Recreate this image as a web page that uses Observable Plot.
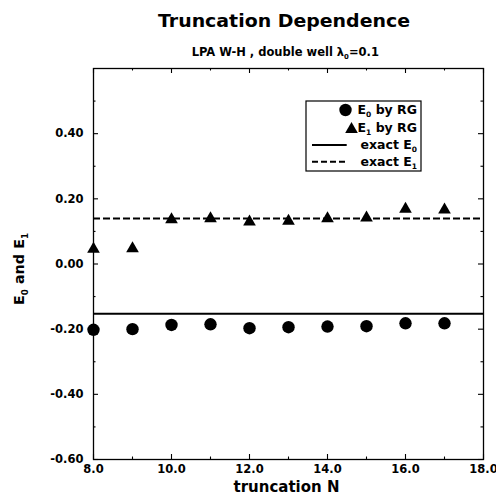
<!DOCTYPE html>
<html><head><meta charset="utf-8">
<script src="https://cdn.jsdelivr.net/npm/d3@7"></script>
<script src="https://cdn.jsdelivr.net/npm/@observablehq/plot@0.6"></script>
<style>body{margin:0;background:#fff}</style>
</head><body><div id="chart"></div>
<script>
const truncationN = [8, 9, 10, 11, 12, 13, 14, 15, 16, 17];
const e0ByRG = [-0.202, -0.200, -0.187, -0.185, -0.197, -0.194, -0.192, -0.191, -0.182, -0.182];
const e1ByRG = [0.051, 0.053, 0.142, 0.145, 0.135, 0.137, 0.145, 0.147, 0.174, 0.172];
const exactE0 = [-0.153];
const exactE1 = [0.140];
const xTicks = [8, 10, 12, 14, 16, 18];
const xMinorTicks = [9, 11, 13, 15, 17];
const yTicks = [-0.6, -0.4, -0.2, 0, 0.2, 0.4];
const yMinorTicks = [-0.5, -0.3, -0.1, 0.1, 0.3, 0.5];

const W = 496, H = 494, ML = 93, MR = 13, MT = 68, MB = 35;
const PW = W - ML - MR, PH = H - MT - MB;
const FONT = "DejaVu Sans";

const chart = Plot.plot({
  width: W, height: H,
  marginLeft: ML, marginRight: MR, marginTop: MT, marginBottom: MB,
  style: {fontFamily: FONT, fontWeight: "bold", fontSize: "11.5px", color: "#000", background: "#fff"},
  x: {domain: [8, 18]},
  y: {domain: [-0.6, 0.6]},
  marks: [
    Plot.ruleY(exactE0, {stroke: "#000", strokeWidth: 2}),
    Plot.ruleY(exactE1, {stroke: "#000", strokeWidth: 2, strokeDasharray: "7,3"}),
    Plot.dot(truncationN, {x: truncationN, y: e0ByRG, r: 6.2, fill: "#000"}),
    Plot.dot(truncationN, {x: truncationN, y: e1ByRG, r: 4.7, symbol: "triangle", fill: "#000", dy: 1.8}),
    // inward ticks, all four sides
    Plot.ruleX(xTicks, {x: d => d, insetTop: PH - 5, strokeWidth: 1.1}),
    Plot.ruleX(xTicks, {x: d => d, insetBottom: PH - 5, strokeWidth: 1.1}),
    Plot.ruleX(xMinorTicks, {x: d => d, insetTop: PH - 2.5, strokeWidth: 1.1}),
    Plot.ruleX(xMinorTicks, {x: d => d, insetBottom: PH - 2.5, strokeWidth: 1.1}),
    Plot.ruleY(yTicks, {y: d => d, insetRight: PW - 5, strokeWidth: 1.1}),
    Plot.ruleY(yTicks, {y: d => d, insetLeft: PW - 5, strokeWidth: 1.1}),
    Plot.ruleY(yMinorTicks, {y: d => d, insetRight: PW - 2.5, strokeWidth: 1.1}),
    Plot.ruleY(yMinorTicks, {y: d => d, insetLeft: PW - 2.5, strokeWidth: 1.1}),
    Plot.frame({stroke: "#000", strokeWidth: 1.3}),
    Plot.axisX(xTicks, {tickSize: 0, tickPadding: 5, tickFormat: d => d.toFixed(1), label: null}),
    Plot.axisY(yTicks, {tickSize: 0, tickPadding: 10, tickFormat: d => d.toFixed(2), label: null})
  ]
});
document.getElementById("chart").appendChild(chart);

const svg = d3.select(chart);

function subText(g, x, y, parts, size, anchor, extra) {
  const t = g.append("text").attr("x", x).attr("y", y)
    .attr("font-family", FONT).attr("font-weight", "bold")
    .attr("font-size", size).attr("text-anchor", anchor).attr("fill", "#000");
  if (extra) extra(t);
  let shift = 0;
  parts.forEach(p => {
    const s = t.append("tspan").text(p.t);
    if (p.sub) {
      s.attr("font-size", size * 0.6).attr("dy", size * 0.25);
      shift = size * 0.25;
    } else if (shift) {
      s.attr("dy", -shift);
      shift = 0;
    }
  });
  return t;
}

// title & subtitle
svg.append("text").attr("x", 284).attr("y", 27.3).attr("text-anchor", "middle")
  .attr("font-family", FONT).attr("font-weight", "bold").attr("font-size", 17.5)
  .attr("textLength", 252).attr("lengthAdjust", "spacingAndGlyphs")
  .text("Truncation Dependence");
subText(svg, 285.3, 56, [{t: "LPA W-H , double well λ"}, {t: "0", sub: true}, {t: "=0.1"}], 11.5, "middle");

// axis labels
subText(svg, 286.5, 491.5, [{t: "truncation N"}], 15, "middle");
subText(svg, 0, 0, [{t: "E"}, {t: "0", sub: true}, {t: " and E"}, {t: "1", sub: true}], 14.4, "middle",
  t => t.attr("transform", "translate(24,269) rotate(-90)"));

// legend
const lg = svg.append("g");
lg.append("rect").attr("x", 306).attr("y", 101).attr("width", 115).attr("height", 70)
  .attr("fill", "#fff").attr("stroke", "#000").attr("stroke-width", 1.2);
lg.append("circle").attr("cx", 345.5).attr("cy", 110).attr("r", 6.2).attr("fill", "#000");
lg.append("path").attr("d", d3.symbol(d3.symbolTriangle, Math.PI * 4.7 * 4.7)())
  .attr("transform", "translate(351.5,129.3)").attr("fill", "#000");
lg.append("line").attr("x1", 312).attr("x2", 346.7).attr("y1", 145).attr("y2", 145)
  .attr("stroke", "#000").attr("stroke-width", 2);
lg.append("line").attr("x1", 312).attr("x2", 346.7).attr("y1", 161.7).attr("y2", 161.7)
  .attr("stroke", "#000").attr("stroke-width", 2).attr("stroke-dasharray", "6,3");
subText(lg, 417, 114.3, [{t: "E"}, {t: "0", sub: true}, {t: " by RG"}], 12.5, "end");
subText(lg, 417, 131.5, [{t: "E"}, {t: "1", sub: true}, {t: " by RG"}], 12.5, "end");
subText(lg, 417, 148.7, [{t: "exact E"}, {t: "0", sub: true}], 12.5, "end");
subText(lg, 417, 165.9, [{t: "exact E"}, {t: "1", sub: true}], 12.5, "end");
</script>
</body></html>
